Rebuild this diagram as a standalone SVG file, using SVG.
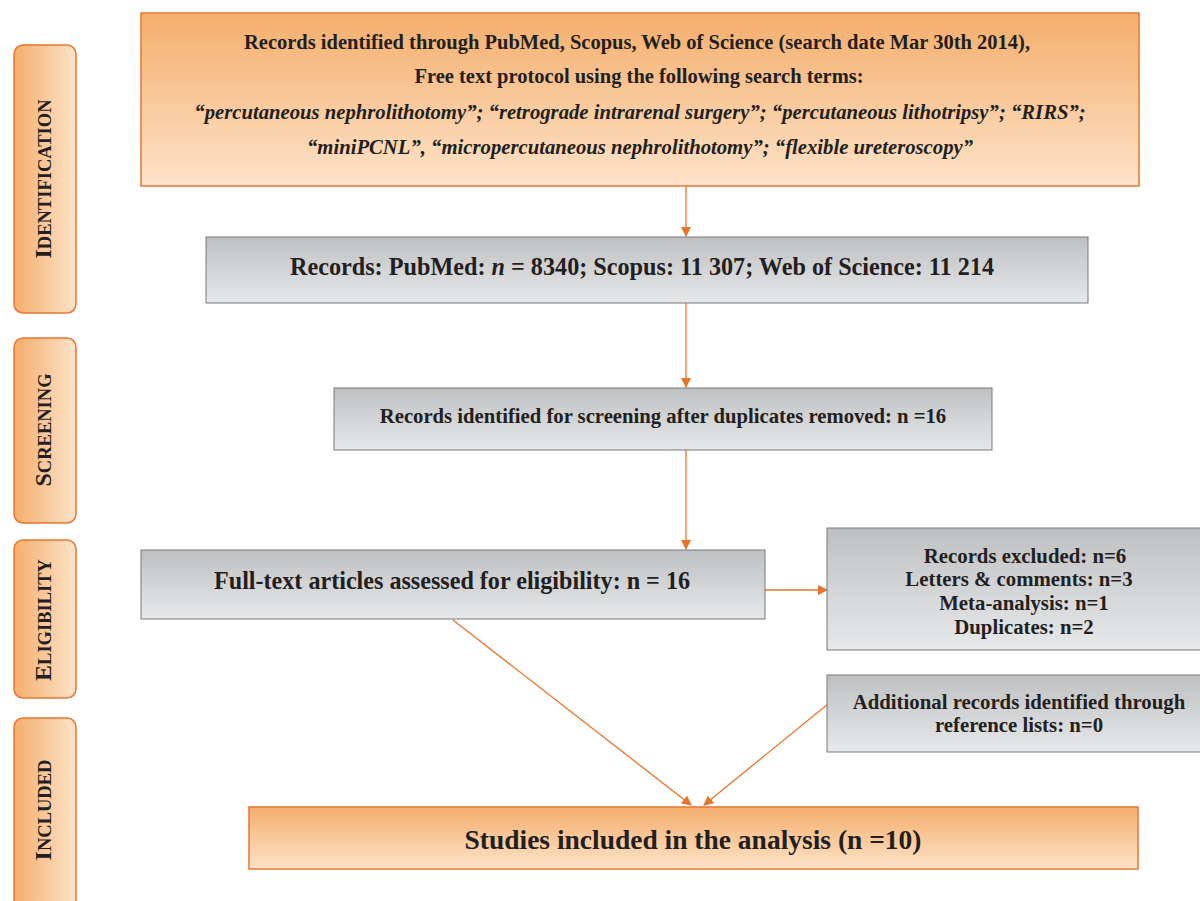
<svg xmlns="http://www.w3.org/2000/svg" width="1200" height="901" viewBox="0 0 1200 901">
<defs>
<linearGradient id="gOrV" x1="0" y1="0" x2="0" y2="1"><stop offset="0" stop-color="#f4ae6c"/><stop offset="1" stop-color="#fde3c9"/></linearGradient>
<linearGradient id="gOrH" x1="0" y1="0" x2="1" y2="0"><stop offset="0" stop-color="#f4ae6c"/><stop offset="1" stop-color="#fde3c9"/></linearGradient>
<linearGradient id="gGr" x1="0" y1="0" x2="0" y2="1"><stop offset="0" stop-color="#bfc0c2"/><stop offset="1" stop-color="#e7e8e9"/></linearGradient>
<marker id="ah" markerWidth="10" markerHeight="10" refX="9" refY="5" orient="auto" markerUnits="userSpaceOnUse"><path d="M0,0 L10,5 L0,10 Z" fill="#e8732a"/></marker>
<style>
.or{fill:url(#gOrV);stroke:#e8772f;stroke-width:1.5}
.side{fill:url(#gOrH);stroke:#e8772f;stroke-width:1.5}
.gr{fill:url(#gGr);stroke:#77787a;stroke-width:1}
.t{font-family:"Liberation Serif","Times New Roman",serif;font-weight:bold;fill:#231f20;text-anchor:middle}
.i{font-style:italic}
.sc{font-family:"Liberation Serif","Times New Roman",serif;font-weight:bold;fill:#231f20;text-anchor:middle;font-size:18.5px}
.big{font-size:24px}
.c{stroke:#e8732a;stroke-width:1.3;fill:none;marker-end:url(#ah)}
</style>
</defs>
<g id="side-identification"><rect class="side" x="14" y="45" width="62" height="268" rx="9"/><text class="sc" transform="translate(44,179) rotate(-90)" dy="7"><tspan class="big">I</tspan>DENTIFICATION</text></g>
<g id="side-screening"><rect class="side" x="14" y="338" width="62" height="185" rx="9"/><text class="sc" transform="translate(44,430) rotate(-90)" dy="7"><tspan class="big">S</tspan>CREENING</text></g>
<g id="side-eligibility"><rect class="side" x="14" y="540" width="62" height="158" rx="9"/><text class="sc" transform="translate(44,620) rotate(-90)" dy="7"><tspan class="big">E</tspan>LIGIBILITY</text></g>
<g id="side-included"><rect class="side" x="14" y="718" width="62" height="200" rx="9"/><text class="sc" transform="translate(44,810) rotate(-90)" dy="7"><tspan class="big">I</tspan>NCLUDED</text></g>

<g id="connectors">
<line class="c" x1="686" y1="186" x2="686" y2="236"/>
<line class="c" x1="686" y1="303" x2="686" y2="387"/>
<line class="c" x1="686" y1="450" x2="686" y2="549"/>
<line class="c" x1="765" y1="590" x2="827" y2="590"/>
<line class="c" x1="453" y1="620" x2="691" y2="805"/>
<line class="c" x1="828" y1="704" x2="704" y2="805"/>
</g>

<g id="identification"><rect class="or" x="141" y="13" width="998" height="173"/>
<text class="t" x="637" y="49" font-size="20.5">Records identified through PubMed, Scopus, Web of Science (search date Mar 30th 2014),</text>
<text class="t" x="639" y="83" font-size="20.5">Free text protocol using the following search terms:</text>
<text class="t i" x="640" y="119" font-size="20.7">“percutaneous nephrolithotomy”; “retrograde intrarenal surgery”; “percutaneous lithotripsy”; “RIRS”;</text>
<text class="t i" x="640" y="154" font-size="20.7">“miniPCNL”, “micropercutaneous nephrolithotomy”; “flexible ureteroscopy”</text>
</g>
<g id="records"><rect class="gr" x="206" y="237" width="882" height="66"/>
<text class="t" x="642" y="275" font-size="24.2">Records: PubMed: <tspan class="i">n</tspan> = 8340; Scopus: 11 307; Web of Science: 11 214</text></g>
<g id="screening"><rect class="gr" x="334" y="388" width="658" height="62"/>
<text class="t" x="663" y="423" font-size="20.7">Records identified for screening after duplicates removed: n =16</text></g>
<g id="eligibility"><rect class="gr" x="141" y="550" width="624" height="69"/>
<text class="t" x="452" y="589" font-size="26" textLength="476" lengthAdjust="spacingAndGlyphs">Full-text articles assessed for eligibility: n = 16</text></g>
<g id="excluded"><rect class="gr" x="827" y="528" width="380" height="122"/>
<text class="t" x="1025" y="563" font-size="20.8">Records excluded: n=6</text>
<text class="t" x="1019" y="586" font-size="20.8">Letters &amp; comments: n=3</text>
<text class="t" x="1024" y="610" font-size="20.8">Meta-analysis: n=1</text>
<text class="t" x="1024" y="634" font-size="20.8">Duplicates: n=2</text></g>
<g id="additional"><rect class="gr" x="827" y="675" width="380" height="77"/>
<text class="t" x="1019" y="709" font-size="20.8">Additional records identified through</text>
<text class="t" x="1019" y="732" font-size="20.8">reference lists: n=0</text></g>
<g id="included"><rect class="or" x="249" y="807" width="889" height="62"/>
<text class="t" x="693" y="849" font-size="27" textLength="457" lengthAdjust="spacingAndGlyphs">Studies included in the analysis (n =10)</text></g>
</svg>
